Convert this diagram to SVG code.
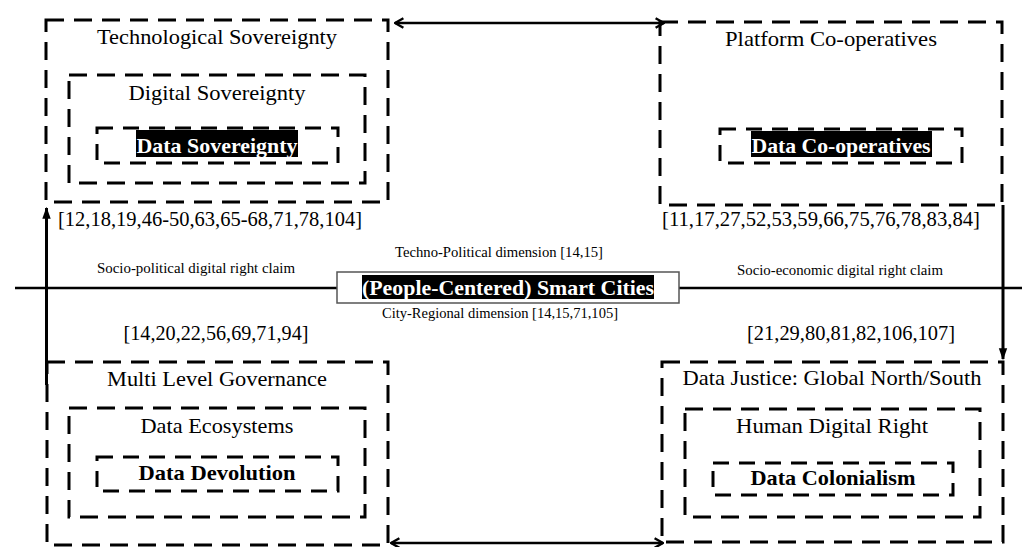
<svg xmlns="http://www.w3.org/2000/svg" width="1022" height="547" viewBox="0 0 1022 547">
<style>
.box{fill:none;stroke:#000;stroke-width:3;stroke-dasharray:18 10}
.inner{fill:none;stroke:#000;stroke-width:3;stroke-dasharray:16 10}
.t{font-family:"Liberation Serif","DejaVu Serif",serif;font-size:22px;fill:#000;text-anchor:middle}
.b{font-weight:bold;font-size:21px}
.w{fill:#fff}
.s{font-family:"Liberation Serif","DejaVu Serif",serif;font-size:14px;fill:#000;text-anchor:middle}
.ln{stroke:#000;stroke-width:2.5;fill:none}
.v{stroke:#000;stroke-width:3;fill:none}
</style>
<defs>
<marker id="open" viewBox="0 0 10 10" refX="9" refY="5" markerWidth="12" markerHeight="12" orient="auto-start-reverse" markerUnits="userSpaceOnUse">
<path d="M2,1 L9,5 L2,9" fill="none" stroke="#000" stroke-width="2"/>
</marker>
<marker id="fill" viewBox="0 0 10 10" refX="9" refY="5" markerWidth="12" markerHeight="12" orient="auto" markerUnits="userSpaceOnUse">
<path d="M0,1.5 L10,5 L0,8.5 Z" fill="#000"/>
</marker>
</defs>
<rect width="1022" height="547" fill="#fff"/>
<g id="connectors">
<line class="ln" x1="395" y1="23" x2="664" y2="23" marker-start="url(#open)" marker-end="url(#open)"/>
<line class="ln" x1="391" y1="543" x2="663" y2="543" marker-start="url(#open)" marker-end="url(#open)"/>
<line class="v" x1="46.5" y1="385" x2="46.5" y2="208" marker-end="url(#fill)"/>
<line class="v" x1="1003" y1="205" x2="1003" y2="359" marker-end="url(#fill)"/>
<line class="ln" x1="15" y1="288" x2="337" y2="288"/>
<line class="ln" x1="679" y1="288" x2="1022" y2="288"/>
</g>
<g id="technological-sovereignty">
<rect class="box" x="46" y="20" width="342" height="182"/>
<text class="t" x="217" y="44" textLength="240" lengthAdjust="spacingAndGlyphs">Technological Sovereignty</text>
</g>
<g id="digital-sovereignty">
<rect class="box" x="69" y="75" width="296" height="108"/>
<text class="t" x="217" y="100" textLength="177" lengthAdjust="spacingAndGlyphs">Digital Sovereignty</text>
</g>
<g id="data-sovereignty">
<rect class="inner" x="97" y="128" width="241" height="35"/>
<rect x="136" y="130" width="162" height="27" fill="#000"/>
<text class="t b w" x="217" y="153" textLength="161" lengthAdjust="spacingAndGlyphs">Data Sovereignty</text>
</g>
<g id="ref-tl">
<text class="t" x="210" y="226" textLength="304" lengthAdjust="spacingAndGlyphs">[12,18,19,46-50,63,65-68,71,78,104]</text>
</g>
<g id="platform-cooperatives">
<rect class="box" x="660" y="22" width="342" height="183"/>
<text class="t" x="831" y="46" textLength="212" lengthAdjust="spacingAndGlyphs">Platform Co-operatives</text>
</g>
<g id="data-cooperatives">
<rect class="inner" x="720" y="129" width="242" height="34"/>
<rect x="751" y="131" width="181" height="26" fill="#000"/>
<text class="t b w" x="841" y="153" textLength="179" lengthAdjust="spacingAndGlyphs">Data Co-operatives</text>
</g>
<g id="ref-tr">
<text class="t" x="821" y="226" textLength="318" lengthAdjust="spacingAndGlyphs">[11,17,27,52,53,59,66,75,76,78,83,84]</text>
</g>
<g id="center">
<rect x="337" y="272" width="342" height="31" fill="#fff" stroke="#555" stroke-width="1.5"/>
<rect x="362" y="275" width="292" height="24" fill="#000"/>
<text class="t b w" x="508" y="295" textLength="292" lengthAdjust="spacingAndGlyphs">(People-Centered) Smart Cities</text>
</g>
<g id="labels">
<text class="s" x="499" y="257" textLength="208" lengthAdjust="spacingAndGlyphs">Techno-Political dimension [14,15]</text>
<text class="s" x="196" y="273" textLength="198" lengthAdjust="spacingAndGlyphs">Socio-political digital right claim</text>
<text class="s" x="500" y="318" textLength="236" lengthAdjust="spacingAndGlyphs">City-Regional dimension [14,15,71,105]</text>
<text class="s" x="840" y="275" textLength="206" lengthAdjust="spacingAndGlyphs">Socio-economic digital right claim</text>
</g>
<g id="ref-bl">
<text class="t" x="216" y="340" textLength="185" lengthAdjust="spacingAndGlyphs">[14,20,22,56,69,71,94]</text>
</g>
<g id="ref-br">
<text class="t" x="851" y="340" textLength="208" lengthAdjust="spacingAndGlyphs">[21,29,80,81,82,106,107]</text>
</g>
<g id="multi-level-governance">
<rect class="box" x="47" y="362" width="341" height="183"/>
<text class="t" x="217" y="386" textLength="220" lengthAdjust="spacingAndGlyphs">Multi Level Governance</text>
</g>
<g id="data-ecosystems">
<rect class="box" x="69" y="408" width="296" height="109"/>
<text class="t" x="217" y="433" textLength="153" lengthAdjust="spacingAndGlyphs">Data Ecosystems</text>
</g>
<g id="data-devolution">
<rect class="inner" x="97" y="457" width="241" height="34"/>
<text class="t b" x="217" y="480" textLength="157" lengthAdjust="spacingAndGlyphs">Data Devolution</text>
</g>
<g id="data-justice">
<rect class="box" x="662" y="362" width="341" height="180"/>
<text class="t" x="832" y="385" textLength="299" lengthAdjust="spacingAndGlyphs">Data Justice: Global North/South</text>
</g>
<g id="human-digital-right">
<rect class="box" x="685" y="409" width="295" height="108"/>
<text class="t" x="832" y="433" textLength="192" lengthAdjust="spacingAndGlyphs">Human Digital Right</text>
</g>
<g id="data-colonialism">
<rect class="inner" x="713" y="463" width="240" height="32"/>
<text class="t b" x="833" y="485" textLength="165" lengthAdjust="spacingAndGlyphs">Data Colonialism</text>
</g>
</svg>
